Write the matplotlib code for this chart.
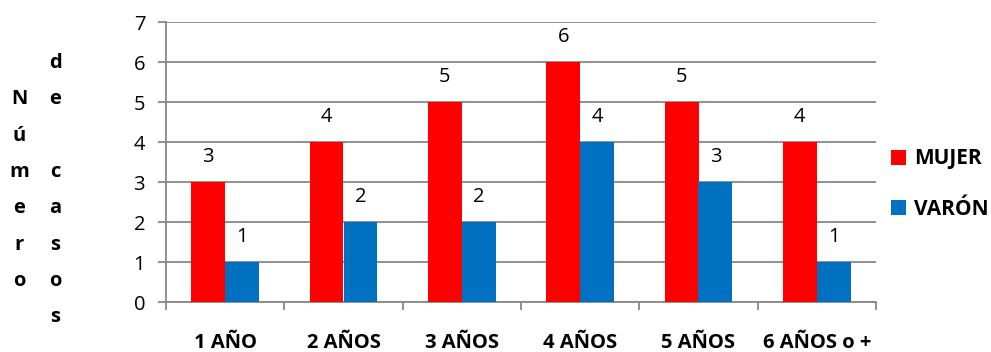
import numpy as np
import matplotlib.pyplot as plt

categorias = ["1 AÑO", "2 AÑOS", "3 AÑOS", "4 AÑOS", "5 AÑOS", "6 AÑOS o +"]
mujer = [3, 4, 5, 6, 5, 4]
varon = [1, 2, 2, 4, 3, 1]

plt.rcParams['font.family'] = ['Open Sans', 'DejaVu Sans']

fig = plt.figure(figsize=(9.91, 3.52), dpi=100)
ax = fig.add_axes([166/991, 1 - 302/352, 710/991, 280/352])

x = np.arange(len(categorias))
w = 0.287
b1 = ax.bar(x - w/2, mujer, w, color="#ff0000", label="MUJER", zorder=3)
b2 = ax.bar(x + w/2, varon, w, color="#0070c0", label="VARÓN", zorder=3)

for rects, vals in [(b1, mujer), (b2, varon)]:
    for r, v in zip(rects, vals):
        ax.text(r.get_x() + r.get_width()/2, v + 0.38, str(v),
                ha="center", va="bottom", fontsize=14.5)

ax.set_xlim(-0.5, len(categorias) - 0.5)
ax.set_ylim(0, 7)
ax.set_yticks(range(8))
ax.set_xticks(x)
ax.set_xticklabels(categorias, fontweight="bold", fontsize=14.5)
ax.set_xticks(np.arange(len(categorias) + 1) - 0.5, minor=True)
ax.tick_params(axis="x", which="major", length=0, pad=22)
ax.tick_params(axis="x", which="minor", length=6, color="#888888", width=1.3)
ax.tick_params(axis="y", length=6, color="#888888", width=1.3, labelsize=14.5, pad=9)

ax.grid(axis="y", color="#888888", linewidth=1.3, zorder=0)
for s in ["top", "right"]:
    ax.spines[s].set_visible(False)
for s in ["left", "bottom"]:
    ax.spines[s].set_color("#888888")
    ax.spines[s].set_linewidth(1.3)

# y label wrapped letter by letter into two columns
col1 = "Número"
col2 = "de casos"
row_y = [63 + 36.3*k for k in range(8)]
for k, ch in enumerate(col1):
    fig.text(19/991, 1 - row_y[k+1]/352, ch, ha="center", va="center",
             fontsize=14.5, fontweight="bold")
for k, ch in enumerate(col2):
    if ch.strip():
        fig.text(55/991, 1 - row_y[k]/352, ch, ha="center", va="center",
                 fontsize=14.5, fontweight="bold")

leg = fig.legend(handles=[b1, b2], loc="center left", bbox_to_anchor=(872/991, 1 - 184/352),
                 frameon=False, handlelength=0.75, handleheight=0.75, handletextpad=0.35,
                 labelspacing=1.4, prop={"weight": "bold", "size": 15})

fig.savefig("out.png", dpi=100)
